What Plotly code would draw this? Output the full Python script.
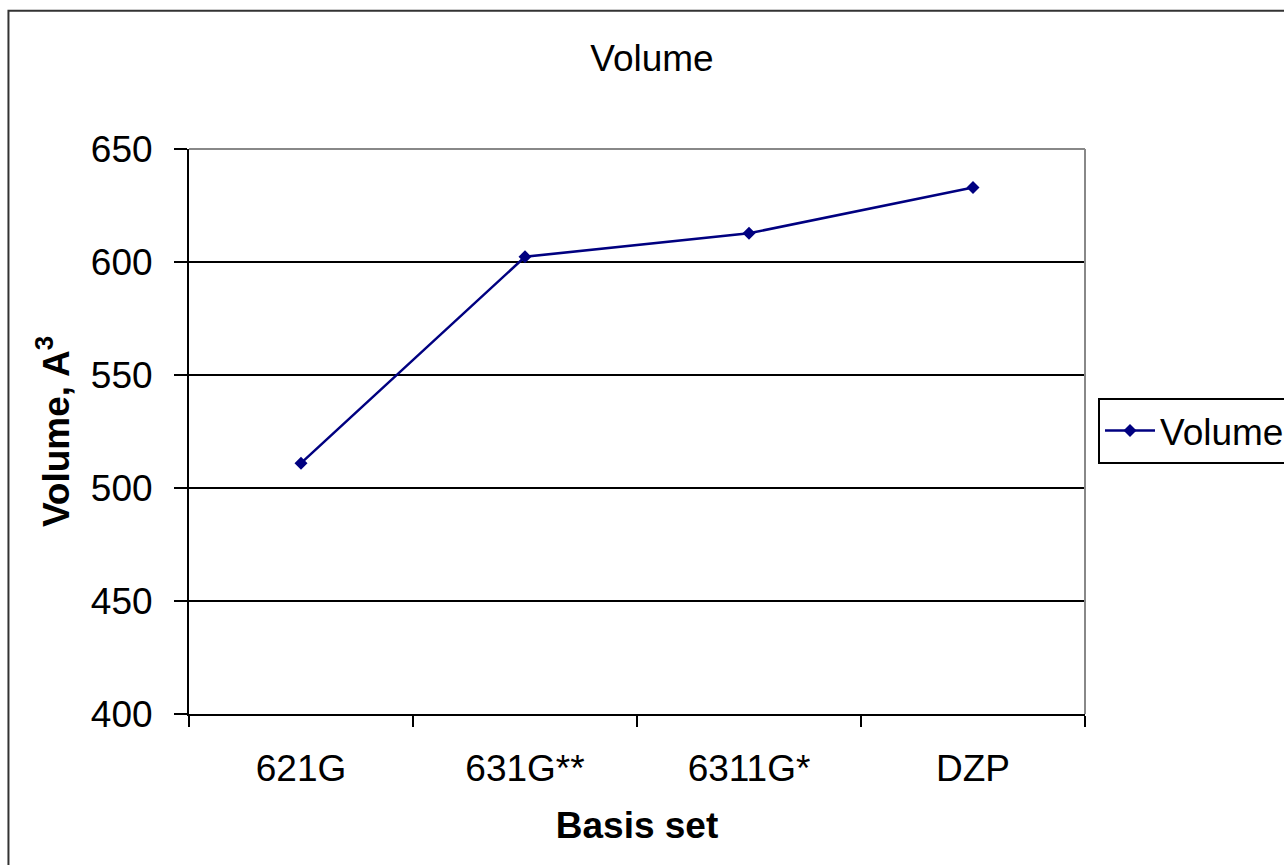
import plotly.graph_objects as go

categories = ["621G", "631G**", "6311G*", "DZP"]
volume = [511, 602.3, 612.7, 633]
y_ticks = [400, 450, 500, 550, 600, 650]

FONT = "Liberation Sans, Arial, sans-serif"
NAVY = "#000080"
FS = 37

fig = go.Figure()
fig.add_trace(go.Scatter(
    x=categories, y=volume, mode="lines+markers", name="Volume",
    line=dict(color=NAVY, width=2.5),
    marker=dict(symbol="diamond", size=10, color=NAVY),
))

fig.update_layout(
    width=1284, height=865,
    margin=dict(l=189, r=199, t=149, b=151),
    paper_bgcolor="white", plot_bgcolor="white",
    font=dict(family=FONT, size=FS, color="black"),
    title=dict(text="Volume", x=0.5167, xref="paper", xanchor="center",
               y=1 - 58 / 865, yref="container", yanchor="middle",
               font=dict(size=FS, color="black")),
    showlegend=True,
    legend=dict(x=1098 / 1284, xref="container", xanchor="left",
                y=0.501, yref="paper", yanchor="middle",
                bordercolor="black", borderwidth=2, bgcolor="white",
                font=dict(size=FS), itemwidth=50, tracegroupgap=0),
    xaxis=dict(
        type="category", range=[-0.5, 3.5],
        tickson="boundaries", ticks="outside", ticklen=11, tickwidth=2, tickcolor="black",
        showline=True, linecolor="black", linewidth=2, mirror=False,
        showgrid=False, zeroline=False,
        ticklabelstandoff=21,
        title=dict(text="<b>Basis set</b>", standoff=24, font=dict(size=FS)),
    ),
    yaxis=dict(
        range=[400, 650], tickvals=y_ticks,
        ticks="outside", ticklen=13, tickwidth=2, tickcolor="black",
        showline=True, linecolor="black", linewidth=2,
        showgrid=True, gridcolor="black", gridwidth=2, zeroline=False,
        ticklabelstandoff=14,
        title=dict(text="<b>Volume, A<sup>3</sup></b>", standoff=10, font=dict(size=FS)),
    ),
    shapes=[
        # plot-area top and right border (grey)
        dict(type="line", xref="paper", yref="paper", x0=0, x1=1, y0=1, y1=1,
             line=dict(color="#888888", width=2)),
        dict(type="line", xref="paper", yref="paper", x0=1, x1=1, y0=0, y1=1,
             line=dict(color="#888888", width=2)),
        # outer chart border
        dict(type="rect", xref="paper", yref="paper", x0=-0.2015, x1=1.3, y0=-0.5, y1=1.2445,
             line=dict(color="#333333", width=2), layer="below"),
    ],
)

fig.write_html("out.html")
